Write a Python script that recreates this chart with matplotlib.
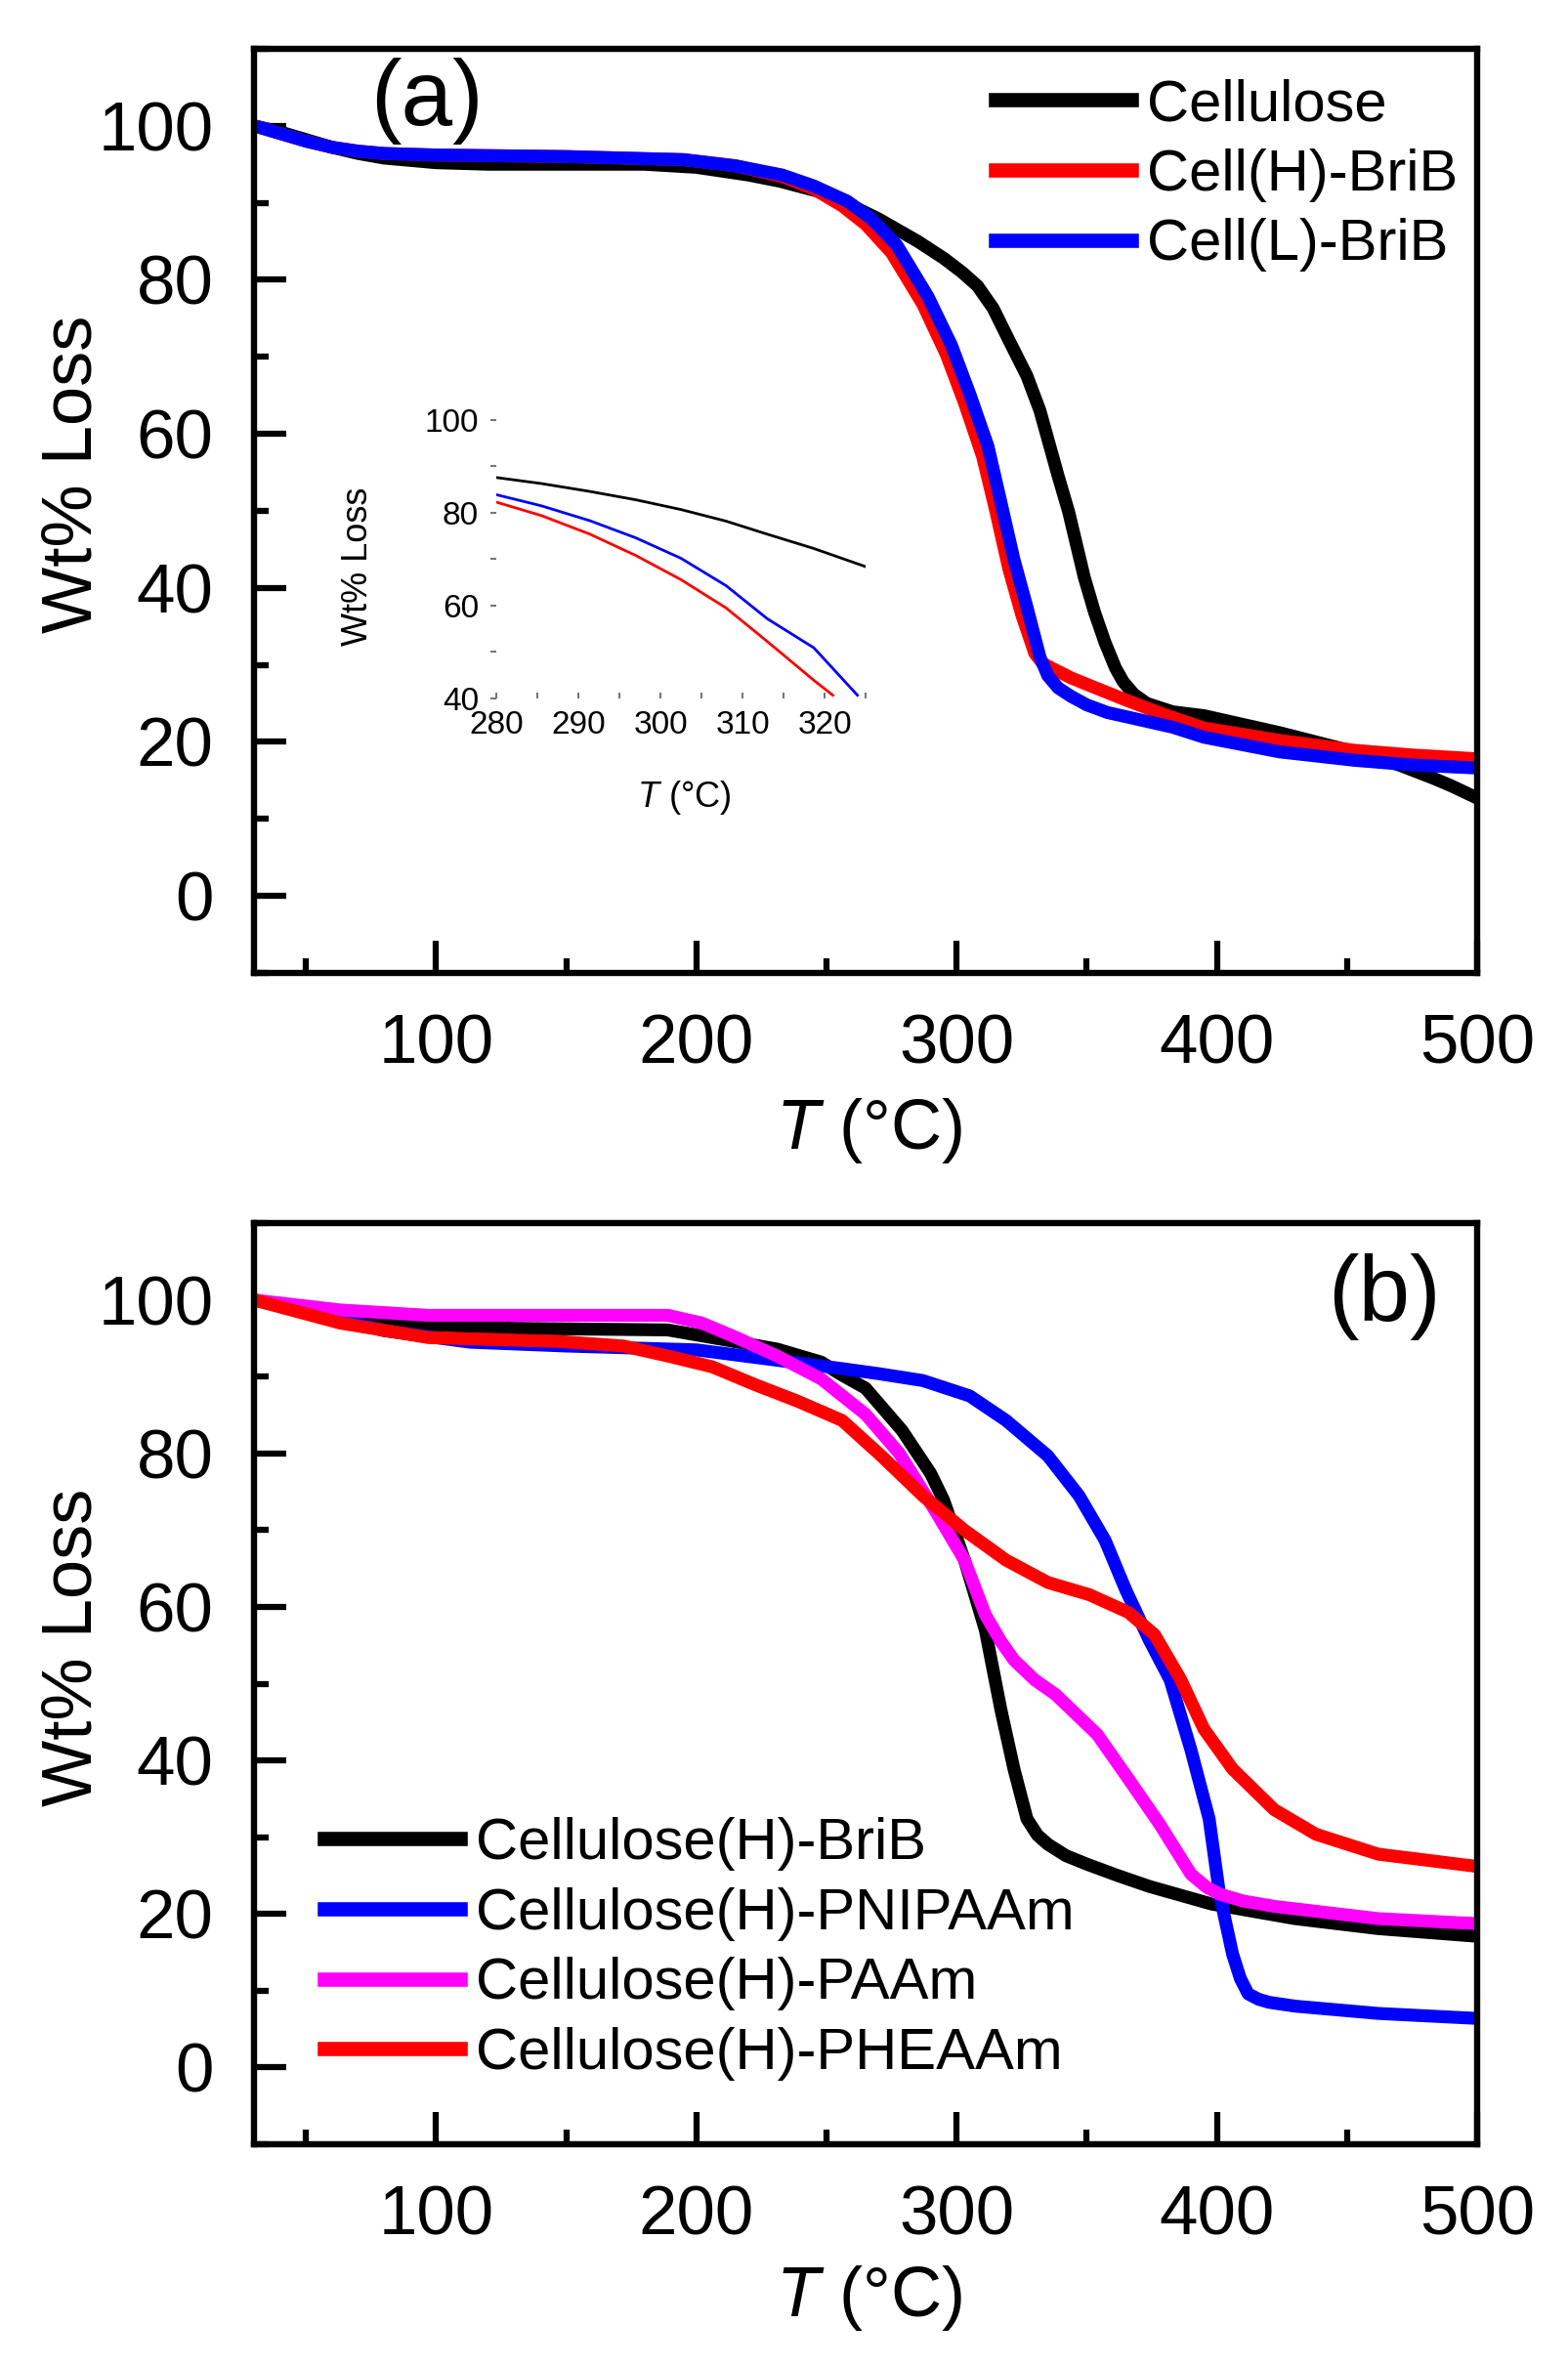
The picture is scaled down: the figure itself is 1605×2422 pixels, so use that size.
import matplotlib
matplotlib.use("Agg")
import matplotlib.pyplot as plt
from matplotlib.ticker import MultipleLocator

plt.rcParams["font.family"] = ["Liberation Sans", "DejaVu Sans"]
plt.rcParams["mathtext.fontset"] = "custom"
plt.rcParams["mathtext.it"] = "Liberation Sans:italic"
plt.rcParams["mathtext.rm"] = "Liberation Sans"

# ---- panel (a): TGA of cellulose and the two BriB macroinitiators ----
t_cell = [30, 40, 50, 60, 70, 80, 90, 100, 120, 150, 180, 200, 220, 232, 250,
          270, 285, 295, 302, 308, 314, 320, 327, 332, 339, 343, 349, 353, 357,
          361, 364, 368, 373, 383, 395, 424, 453, 470, 483, 490, 500]
w_cell = [100, 99.2, 98.2, 97.2, 96.4, 95.8, 95.5, 95.2, 95.0, 95.0, 95.0, 94.6,
          93.6, 92.8, 91.2, 87.9, 85.0, 82.8, 81.0, 79.2, 76.3, 72.2, 67.5, 63.0,
          54.5, 49.9, 41.4, 36.8, 32.9, 29.6, 27.8, 26.2, 25.0, 23.9, 23.4, 21.2,
          18.7, 17.0, 15.3, 14.3, 12.7]

t_cellH = [30, 40, 50, 60, 70, 80, 100, 150, 195, 215, 233, 245, 256, 265, 275,
           287, 296, 303, 310, 315, 320, 325, 330, 333, 337, 344, 352, 366, 381,
           395, 424, 453, 475, 500]
w_cellH = [100, 99.0, 98.0, 97.2, 96.7, 96.4, 96.2, 96.0, 95.6, 94.8, 93.4, 91.8,
           89.6, 87.2, 83.5, 76.8, 70.3, 64.0, 57.0, 50.0, 42.5, 36.5, 31.5, 30.2,
           29.5, 28.3, 27.2, 25.3, 23.4, 21.8, 20.2, 18.9, 18.3, 17.8]

t_cellL = [30, 40, 50, 60, 70, 80, 100, 150, 195, 215, 233, 245, 258, 267, 277,
           289, 298, 305, 312, 317, 322, 327, 332, 335, 339, 344, 350, 358, 366,
           383, 395, 424, 453, 475, 500]
w_cellL = [100, 99.0, 98.0, 97.2, 96.7, 96.4, 96.2, 96.0, 95.6, 94.8, 93.6, 92.2,
           90.2, 88.0, 84.5, 77.8, 71.5, 65.2, 58.4, 51.1, 43.7, 37.5, 31.0, 28.6,
           27.0, 25.9, 24.8, 23.8, 23.2, 21.9, 20.6, 18.7, 17.6, 17.0, 16.6]

# inset (zoom 280-325 C)
ti_cell = [280, 285.5, 291.4, 297, 302.5, 308, 313, 318.7, 325]
wi_cell = [87.6, 86.3, 84.6, 82.8, 80.7, 78.2, 75.4, 72.3, 68.4]
ti_cellH = [280, 285.5, 291.4, 297, 302.5, 308, 313, 318.7, 321]
wi_cellH = [82.3, 79.4, 75.4, 70.8, 65.6, 59.5, 52.3, 43.9, 40.7]
ti_cellL = [280, 285.5, 291.4, 297, 302.5, 308, 313, 318.7, 324]
wi_cellL = [83.9, 81.5, 78.3, 74.6, 70.2, 64.3, 57.2, 50.9, 40.7]

# ---- panel (b): grafted copolymers ----
t_brib = [30, 50, 80, 130, 189, 206, 231, 248, 255, 265, 279, 290, 295, 303,
          311, 317, 322, 327, 331, 335, 342, 350, 362, 374, 398, 430, 462, 500]
w_brib = [100, 98.5, 97.0, 96.3, 96.1, 95.1, 93.6, 91.9, 90.4, 88.5, 83.0, 77.4,
          73.9, 66.1, 57.0, 46.6, 38.9, 32.4, 30.3, 29.1, 27.6, 26.5, 25.0, 23.6,
          21.3, 19.4, 18.1, 17.1]

t_pnipaam = [30, 46, 63, 80, 113, 150, 200, 223, 248, 255, 270, 287, 305, 319,
             335, 347, 357, 365, 374, 382, 390, 397, 401, 406, 409, 412, 416,
             420, 430, 462, 500]
w_pnipaam = [100, 99.0, 97.5, 96.0, 94.5, 94.0, 93.5, 92.5, 91.4, 91.1, 90.4,
             89.5, 87.5, 84.3, 79.7, 74.5, 68.7, 62.2, 55.7, 50.5, 41.4, 32.4,
             22.6, 14.8, 11.6, 9.6, 8.9, 8.5, 8.0, 7.05, 6.4]

t_paam = [30, 63, 97, 140, 189, 202, 214, 231, 248, 265, 278, 292, 303, 311,
          317, 322, 330, 338, 354, 366, 378, 390, 396, 401, 410, 422, 462, 500]
w_paam = [100, 98.7, 98.0, 98.0, 98.0, 97.0, 95.3, 92.7, 89.7, 85.1, 80.0, 72.4,
          66.1, 59.0, 55.5, 53.1, 50.5, 48.6, 43.4, 37.6, 31.7, 25.2, 23.5, 22.6,
          21.7, 21.0, 19.4, 18.75]

t_pheaam = [30, 63, 97, 147, 172, 189, 206, 223, 239, 256, 271, 287, 303, 319,
            335, 351, 366, 376, 386, 395, 406, 422, 438, 462, 500]
w_pheaam = [100, 97.0, 95.1, 94.6, 94.0, 92.7, 91.3, 88.9, 86.8, 84.3, 79.7, 74.5,
            70.0, 66.1, 63.2, 61.6, 59.3, 56.4, 50.6, 44.1, 38.9, 33.6, 30.4, 27.8,
            26.2]

LW = 9.5
TICK_FS = 51
LABEL_FS = 52
LEG_FS = 43

fig = plt.figure(figsize=(16.06, 24.22), dpi=100)
ax_a = fig.add_axes([0.1619, 0.5888, 0.7796, 0.3906])
ax_b = fig.add_axes([0.1619, 0.0937, 0.7796, 0.3893])


def estilo_eixo(ax):
    ax.set_xlim(30, 500)
    ax.set_ylim(-10, 110)
    ax.xaxis.set_major_locator(MultipleLocator(100))
    ax.xaxis.set_minor_locator(MultipleLocator(50))
    ax.yaxis.set_major_locator(MultipleLocator(20))
    ax.yaxis.set_minor_locator(MultipleLocator(10))
    ax.tick_params(which="both", direction="in", top=False, right=False,
                   labelsize=TICK_FS, pad=30)
    ax.tick_params(which="major", length=24, width=4.5)
    ax.tick_params(which="minor", length=11, width=4.5)
    for s in ax.spines.values():
        s.set_linewidth(4.6)
    ax.set_xlabel(r"$\mathit{T}$ (°C)", fontsize=LABEL_FS)
    ax.set_ylabel("Wt% Loss", fontsize=LABEL_FS)
    ax.yaxis.set_label_coords(-0.121, 0.54)


def legenda(ax, x_px, y_px):
    leg = ax.legend(loc="upper left", bbox_to_anchor=(x_px / 1606, 1 - y_px / 2422),
                    bbox_transform=fig.transFigure, frameon=False, fontsize=LEG_FS,
                    handlelength=2.33, handletextpad=0.27, labelspacing=0.28,
                    borderpad=0, borderaxespad=0)
    for h in leg.get_lines():
        h.set_linewidth(LW + 1)


# panel a
ax_a.plot(t_cell, w_cell, color="black", lw=LW, label="Cellulose")
ax_a.plot(t_cellH, w_cellH, color="#ff0000", lw=LW, label="Cell(H)-BriB")
ax_a.plot(t_cellL, w_cellL, color="#0000ff", lw=LW, label="Cell(L)-BriB")
estilo_eixo(ax_a)
ax_a.xaxis.set_label_coords(0.503, -0.133)
ax_a.text(437 / 1606, 1 - 103 / 2422, "(a)", transform=fig.transFigure,
          fontsize=68, ha="center", va="center")
legenda(ax_a, 1019, 80)

# inset
ins = fig.add_axes([0.3163, 0.7048, 0.2354, 0.1177])
ins.set_facecolor("none")
ins.plot(ti_cell, wi_cell, color="black", lw=2)
ins.plot(ti_cellH, wi_cellH, color="#ff0000", lw=2)
ins.plot(ti_cellL, wi_cellL, color="#0000ff", lw=2)
ins.set_xlim(280, 325)
ins.set_ylim(40, 100)
ins.xaxis.set_major_locator(MultipleLocator(10))
ins.xaxis.set_minor_locator(MultipleLocator(5))
ins.yaxis.set_major_locator(MultipleLocator(20))
ins.yaxis.set_minor_locator(MultipleLocator(10))
for s in ins.spines.values():
    s.set_visible(False)
ins.tick_params(which="both", direction="in", length=4, width=1.5,
                color="#777777", labelsize=24, pad=9)
ins.tick_params(axis="y", which="both", direction="out")
ins.set_xlabel(r"$\mathit{T}$ (°C)", fontsize=26)
ins.set_ylabel("Wt% Loss", fontsize=26)
ins.xaxis.set_label_coords(0.508, -0.288)
ins.yaxis.set_label_coords(-0.328, 0.475)

# panel b
ax_b.plot(t_brib, w_brib, color="black", lw=LW, label="Cellulose(H)-BriB")
ax_b.plot(t_pnipaam, w_pnipaam, color="#0000ff", lw=LW,
          label="Cellulose(H)-PNIPAAm")
ax_b.plot(t_paam, w_paam, color="#ff00ff", lw=LW, label="Cellulose(H)-PAAm")
ax_b.plot(t_pheaam, w_pheaam, color="#ff0000", lw=LW,
          label="Cellulose(H)-PHEAAm")
estilo_eixo(ax_b)
ax_b.xaxis.set_label_coords(0.503, -0.129)
ax_b.text(1417 / 1606, 1 - 1328 / 2422, "(b)", transform=fig.transFigure,
          fontsize=68, ha="center", va="center")
legenda(ax_b, 332, 1860)

fig.savefig("out.png", dpi=100)
plt.close(fig)
